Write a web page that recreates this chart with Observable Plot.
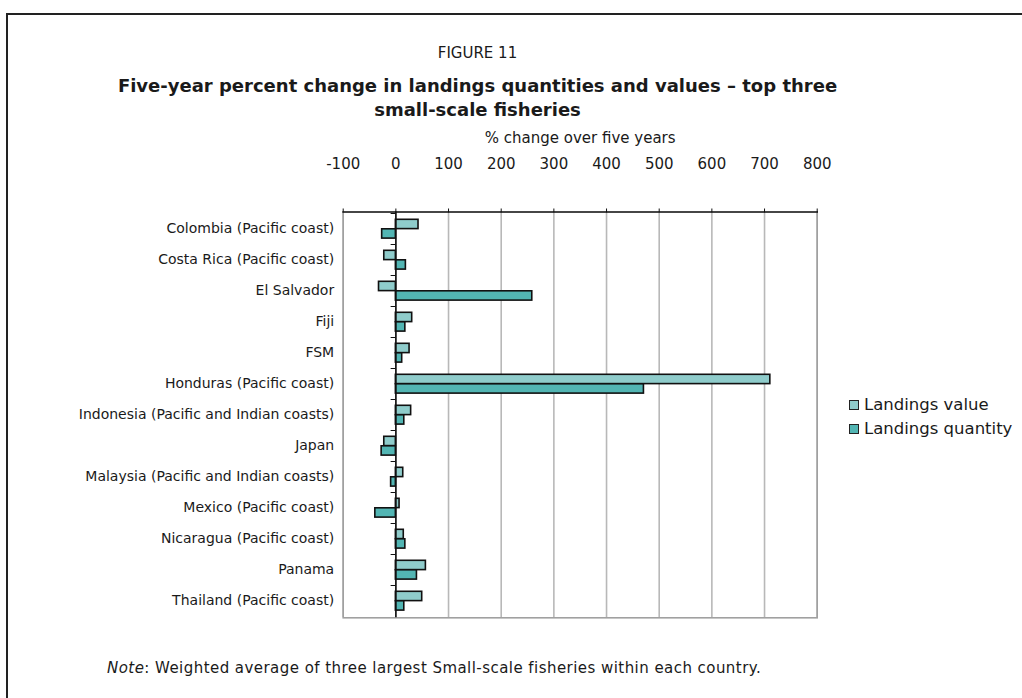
<!DOCTYPE html>
<html><head><meta charset="utf-8">
<script src="https://cdn.jsdelivr.net/npm/d3@7"></script>
<script src="https://cdn.jsdelivr.net/npm/@observablehq/plot@0.6"></script>
<style>
body{margin:0;background:#fff;font-family:"DejaVu Sans",sans-serif;color:#1a1a1a}
#wrap{position:relative;width:1022px;height:698px;overflow:hidden;background:#fff}
#frame{position:absolute;left:6px;top:13px;width:1100px;height:800px;border-left:2px solid #222;border-top:2px solid #222;box-sizing:border-box}
#fig{position:absolute;left:0;width:955px;top:42px;text-align:center;font-size:15px;line-height:22px}
#title{position:absolute;left:0;width:955px;top:74px;text-align:center;font-size:18px;font-weight:bold;line-height:24px}
#chart{position:absolute;left:0;top:120px}
#legend{position:absolute;left:849px;top:393px;font-size:16.5px;line-height:24px}
#legend .row{display:flex;align-items:center}
#legend .sw{width:8px;height:8px;border:1.5px solid #222;margin-right:5px}
#note{position:absolute;left:107px;top:658px;font-size:15px;letter-spacing:0.45px;line-height:20px}
</style></head>
<body>
<div id="wrap">
  <div id="frame"></div>
  <div id="fig">FIGURE 11</div>
  <div id="title">Five-year percent change in landings quantities and values – top three<br>small-scale fisheries</div>
  <div id="chart"></div>
  <div id="legend"></div>
  <div id="note"><i>Note</i>: Weighted average of three largest Small-scale fisheries within each country.</div>
</div>
<script>
const countries = [
  "Colombia (Pacific coast)",
  "Costa Rica (Pacific coast)",
  "El Salvador",
  "Fiji",
  "FSM",
  "Honduras (Pacific coast)",
  "Indonesia (Pacific and Indian coasts)",
  "Japan",
  "Malaysia (Pacific and Indian coasts)",
  "Mexico (Pacific coast)",
  "Nicaragua (Pacific coast)",
  "Panama",
  "Thailand (Pacific coast)"
];
const valueChange    = [43, -22, -32, 31, 26, 711, 29, -22, 14, 7, 15, 57, 50];
const quantityChange = [-26, 19, 259, 18, 12, 471, 16, -27, -9, -39, 18, 40, 16];
const xTicks = [-100, 0, 100, 200, 300, 400, 500, 600, 700, 800];
const seriesNames = ["Landings value", "Landings quantity"];
const seriesColors = ["#8fcccb", "#52b5b3"];

const valueData = countries.map((c, i) => ({country: c, v: valueChange[i]}));
const quantityData = countries.map((c, i) => ({country: c, v: quantityChange[i]}));

const plot = Plot.plot({
  width: 1022,
  height: 510,
  marginTop: 91.5,
  marginBottom: 12.7,
  marginLeft: 342.7,
  marginRight: 205.3,
  style: {fontFamily: "DejaVu Sans", fontSize: "14px", color: "#1a1a1a", background: "transparent", overflow: "visible"},
  x: {domain: [-100, 800]},
  y: {domain: countries, type: "band", padding: 0},
  marks: [
    Plot.ruleX(xTicks, {stroke: "#b8b8b8", strokeWidth: 1.6}),
    Plot.frame({stroke: "#a0a0a0", strokeWidth: 1.6}),
    Plot.frame({anchor: "top", stroke: "#222", strokeWidth: 1.6}),
    Plot.barX(valueData, {x: "v", y: "country", fill: seriesColors[0], stroke: "#111", strokeWidth: 1.6, insetTop: 6.3, insetBottom: 15.4}),
    Plot.barX(quantityData, {x: "v", y: "country", fill: seriesColors[1], stroke: "#111", strokeWidth: 1.6, insetTop: 15.8, insetBottom: 5.9}),
    Plot.ruleX([0], {stroke: "#111", strokeWidth: 1.6}),
    Plot.barX(countries, {y: d => d, x1: -9, x2: 0, insetBottom: 30, fill: "#111"}),
    Plot.axisX(xTicks, {anchor: "top", tickSize: 4, tickPadding: 39, fontSize: 15, stroke: "#111",
      tickFormat: d => String(d),
      label: "% change over five years", labelAnchor: "center", labelOffset: 80, labelArrow: "none"}),
    Plot.axisY({anchor: "left", tickSize: 0, tickPadding: 9, fontSize: 14, label: null})
  ]
});
document.getElementById("chart").appendChild(plot);

const legend = document.getElementById("legend");
seriesNames.forEach((n, i) => {
  const row = document.createElement("div");
  row.className = "row";
  const sw = document.createElement("div");
  sw.className = "sw";
  sw.style.background = seriesColors[i];
  row.appendChild(sw);
  const t = document.createElement("span");
  t.textContent = n;
  row.appendChild(t);
  legend.appendChild(row);
});
</script>
</body></html>
